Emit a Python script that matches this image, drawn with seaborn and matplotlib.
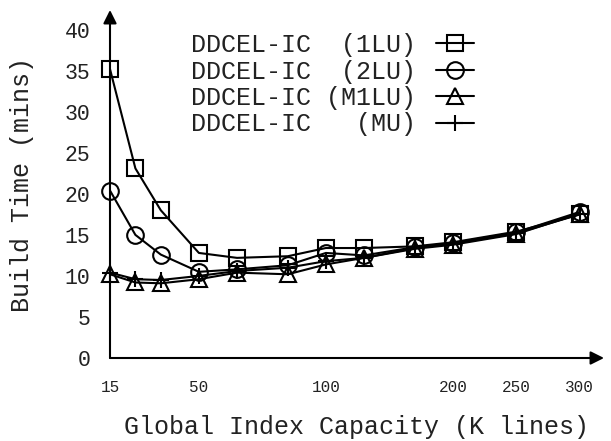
import numpy as np
import pandas as pd
import matplotlib
matplotlib.use("Agg")
import matplotlib.pyplot as plt
import seaborn as sns

# data
capacity = [15, 25, 35, 50, 65, 85, 100, 130, 170, 200, 250, 300]
time_1lu = [35.2, 23.1, 18.0, 12.8, 12.2, 12.4, 13.4, 13.4, 13.6, 14.1, 15.4, 17.5]
time_2lu = [20.4, 15.0, 12.6, 10.5, 10.8, 11.3, 12.8, 12.5, 13.5, 14.0, 15.3, 17.8]
time_m1lu = [10.2, 9.2, 9.1, 9.6, 10.4, 10.2, 11.4, 12.2, 13.3, 13.8, 15.1, 17.6]
time_mu = [10.4, 9.6, 9.5, 10.0, 10.6, 11.0, 11.8, 12.2, 13.4, 13.9, 15.2, 17.5]

series_names = ["DDCEL-IC  (1LU)", "DDCEL-IC  (2LU)", "DDCEL-IC (M1LU)", "DDCEL-IC   (MU)"]
series_markers = ["s", "o", "^", "+"]
x_ticks = [15, 50, 100, 200, 250, 300]
y_ticks = [0, 5, 10, 15, 20, 25, 30, 35, 40]

df = pd.DataFrame({"capacity": capacity, "1LU": time_1lu, "2LU": time_2lu,
                   "M1LU": time_m1lu, "MU": time_mu})

sns.set_style("white")
plt.rcParams["font.family"] = ["Liberation Mono", "DejaVu Sans Mono"]
txt = "#222222"

fig = plt.figure(figsize=(6.11, 4.41), dpi=100)
ax = fig.add_axes([110 / 611, 83 / 441, (604 - 110) / 611, (431 - 83) / 441])


# the x axis is stretched below 100 and compressed above it
def fwd(x):
    x = np.asarray(x, dtype=float)
    return np.where(x <= 100, x, 100 + (x - 100) / 2)


def inv(y):
    y = np.asarray(y, dtype=float)
    return np.where(y <= 100, y, 100 + 2 * (y - 100))


ax.set_xscale("function", functions=(fwd, inv))

for col, name, mk in zip(["1LU", "2LU", "M1LU", "MU"], series_names, series_markers):
    sns.lineplot(data=df, x="capacity", y=col, marker=mk, color="black", lw=1.5,
                 ms=12, mfc="none", mec="black", mew=1.5, label=name,
                 clip_on=False, ax=ax)

ax.set_xlim(15, 319)
ax.set_ylim(0, 42.4)
ax.set_xticks(x_ticks)
ax.set_xticklabels([str(t) for t in x_ticks], fontsize=11.5, color=txt)
ax.set_yticks(y_ticks)
ax.set_yticklabels([str(t) for t in y_ticks], fontsize=15.5, color=txt)
ax.tick_params(axis="x", length=0, pad=16)
ax.tick_params(axis="y", length=0, pad=14)
ax.set_xlabel("Global Index Capacity (K lines)", fontsize=18, color=txt, labelpad=14)
ax.set_ylabel("Build Time (mins)", fontsize=18, color=txt, labelpad=22)

for s in ax.spines.values():
    s.set_visible(False)
ax.annotate("", xy=(1.0, 0), xytext=(0, 0), xycoords="axes fraction",
            arrowprops=dict(arrowstyle="-|>", color="black", lw=1.5,
                            mutation_scale=20, shrinkA=0, shrinkB=0), annotation_clip=False)
ax.annotate("", xy=(0, 1.0), xytext=(0, 0), xycoords="axes fraction",
            arrowprops=dict(arrowstyle="-|>", color="black", lw=1.5,
                            mutation_scale=20, shrinkA=0, shrinkB=0), annotation_clip=False)

leg = ax.legend(loc="upper left", bbox_to_anchor=(191 / 611, (441 - 33) / 441),
                bbox_transform=fig.transFigure, frameon=False, markerfirst=False,
                fontsize=18, handlelength=1.5, handletextpad=0.8, labelspacing=0.1,
                borderpad=0, borderaxespad=0)
for t in leg.get_texts():
    t.set_color(txt)

fig.savefig("out.png", dpi=100)
